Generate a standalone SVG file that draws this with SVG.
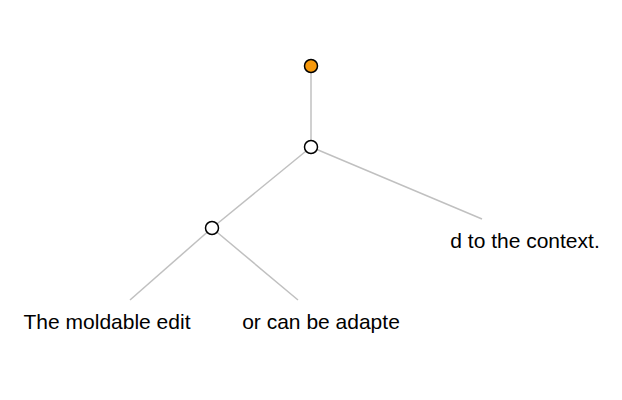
<svg xmlns="http://www.w3.org/2000/svg" width="622" height="400" viewBox="0 0 622 400">
<style>
.link{stroke:#c0c0c0;stroke-width:1.5;fill:none}
.node circle{stroke:#000;stroke-width:1.5;fill:#fff}
.node circle.root{fill:#f7990c}
.label{font-family:"Liberation Sans",Arial,sans-serif;font-size:21px;fill:#000;text-anchor:middle}
</style>
<rect width="622" height="400" fill="#fff"/>
<g id="connectors">
<line class="link" x1="311" y1="66" x2="311" y2="147"/>
<line class="link" x1="311" y1="147" x2="212" y2="228"/>
<line class="link" x1="311" y1="147" x2="482" y2="219"/>
<line class="link" x1="212" y1="228" x2="130" y2="300"/>
<line class="link" x1="212" y1="228" x2="298" y2="300"/>
</g>
<g id="n0" class="node"><circle class="root" cx="311" cy="66" r="6.5"/></g>
<g id="n1" class="node"><circle cx="311" cy="147" r="6.5"/></g>
<g id="n2" class="node"><circle cx="212" cy="228" r="6.5"/></g>
<g id="leaf1" class="node"><text class="label" x="107" y="329">The moldable edit</text></g>
<g id="leaf2" class="node"><text class="label" x="321" y="329">or can be adapte</text></g>
<g id="leaf3" class="node"><text class="label" x="525" y="248">d to the context.</text></g>
</svg>
